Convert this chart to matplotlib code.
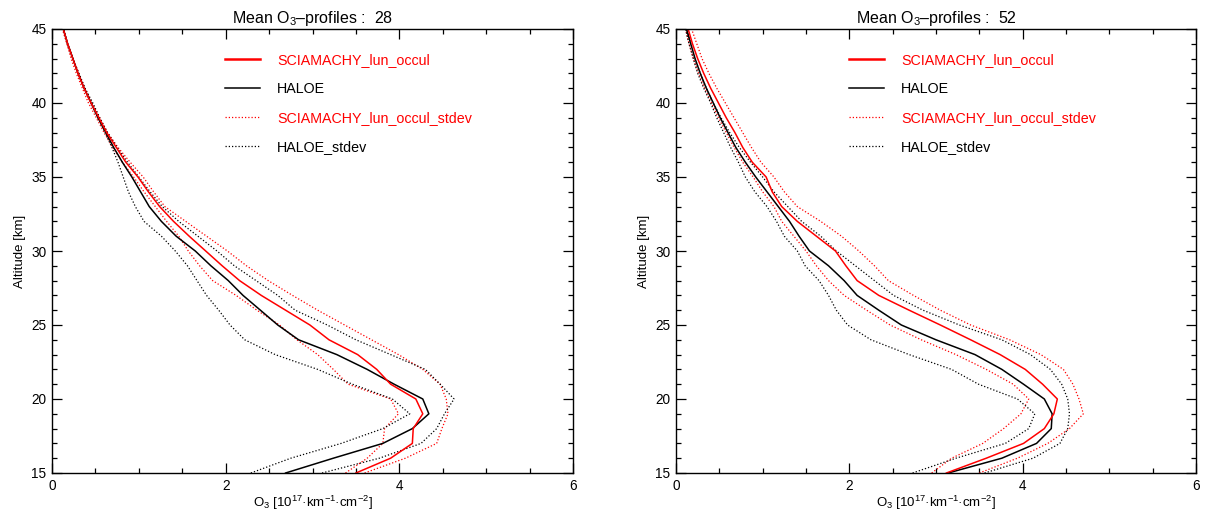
import matplotlib

matplotlib.use("Agg")
import matplotlib.pyplot as plt
from matplotlib.lines import Line2D
from matplotlib.ticker import MultipleLocator

plt.rcParams["font.family"] = ["Liberation Sans", "DejaVu Sans"]
plt.rcParams["mathtext.fontset"] = "custom"
plt.rcParams["mathtext.rm"] = "Liberation Sans"
plt.rcParams["mathtext.it"] = "Liberation Sans:italic"

# altitude grid [km], 15 .. 45
altitude = list(range(15, 46))

# panel 1: 28 profiles
left_scia = [3.50, 3.90, 4.15, 4.16, 4.27, 4.19, 3.90, 3.74, 3.52, 3.19, 2.97, 2.69, 2.41, 2.16, 1.96, 1.77,
             1.58, 1.40, 1.24, 1.11, 0.99, 0.85, 0.74, 0.63, 0.54, 0.45, 0.37, 0.30, 0.24, 0.18, 0.13]
left_haloe = [2.69, 3.24, 3.81, 4.15, 4.34, 4.27, 3.94, 3.63, 3.28, 2.84, 2.60, 2.40, 2.20, 2.03, 1.83, 1.65,
              1.43, 1.26, 1.12, 1.02, 0.92, 0.81, 0.71, 0.62, 0.53, 0.45, 0.37, 0.30, 0.24, 0.18, 0.13]
left_scia_hi = [3.60, 4.07, 4.43, 4.49, 4.56, 4.54, 4.47, 4.27, 3.99, 3.68, 3.37, 3.06, 2.77, 2.49, 2.24, 2.02,
                1.78, 1.54, 1.30, 1.17, 1.05, 0.90, 0.76, 0.64, 0.55, 0.46, 0.38, 0.31, 0.24, 0.18, 0.13]
left_scia_lo = [3.38, 3.63, 3.81, 3.83, 3.99, 3.90, 3.41, 3.24, 3.06, 2.82, 2.62, 2.36, 2.12, 1.85, 1.70, 1.57,
                1.46, 1.32, 1.19, 1.06, 0.94, 0.81, 0.70, 0.60, 0.51, 0.42, 0.35, 0.28, 0.22, 0.17, 0.12]
left_haloe_hi = [3.11, 3.77, 4.25, 4.43, 4.52, 4.63, 4.47, 4.30, 3.90, 3.50, 3.17, 2.80, 2.60, 2.35, 2.10, 1.90,
                 1.68, 1.46, 1.27, 1.13, 1.00, 0.87, 0.75, 0.64, 0.55, 0.47, 0.38, 0.31, 0.24, 0.18, 0.13]
left_haloe_lo = [2.29, 2.75, 3.33, 3.81, 4.12, 3.92, 3.46, 3.06, 2.57, 2.22, 2.05, 1.92, 1.78, 1.67, 1.56, 1.42,
                 1.26, 1.06, 0.96, 0.88, 0.82, 0.76, 0.69, 0.61, 0.53, 0.45, 0.37, 0.30, 0.24, 0.18, 0.13]

# panel 2: 52 profiles
right_scia = [3.12, 3.58, 4.01, 4.25, 4.36, 4.40, 4.23, 4.03, 3.74, 3.40, 3.05, 2.69, 2.34, 2.09, 1.96, 1.84,
              1.62, 1.40, 1.22, 1.11, 1.04, 0.88, 0.77, 0.68, 0.58, 0.49, 0.40, 0.32, 0.25, 0.19, 0.14]
right_haloe = [3.14, 3.76, 4.16, 4.33, 4.34, 4.25, 4.01, 3.76, 3.45, 3.00, 2.60, 2.34, 2.09, 1.94, 1.76, 1.54,
               1.42, 1.31, 1.18, 1.05, 0.92, 0.80, 0.69, 0.60, 0.51, 0.43, 0.35, 0.28, 0.22, 0.17, 0.12]
right_scia_hi = [3.50, 3.94, 4.29, 4.54, 4.70, 4.65, 4.58, 4.47, 4.21, 3.85, 3.40, 3.05, 2.74, 2.45, 2.29, 2.11,
                 1.91, 1.67, 1.40, 1.25, 1.13, 0.98, 0.87, 0.77, 0.67, 0.57, 0.47, 0.38, 0.30, 0.24, 0.18]
right_scia_lo = [2.95, 3.18, 3.54, 3.78, 3.98, 4.07, 3.89, 3.58, 3.23, 2.83, 2.47, 2.20, 1.94, 1.76, 1.62, 1.50,
                 1.36, 1.22, 1.13, 1.00, 0.89, 0.77, 0.67, 0.58, 0.49, 0.41, 0.33, 0.26, 0.20, 0.15, 0.11]
right_haloe_hi = [3.56, 4.12, 4.43, 4.52, 4.54, 4.52, 4.45, 4.32, 4.09, 3.76, 3.27, 2.85, 2.51, 2.29, 2.07, 1.85,
                  1.67, 1.45, 1.29, 1.13, 1.00, 0.86, 0.73, 0.62, 0.52, 0.43, 0.35, 0.28, 0.22, 0.17, 0.13]
right_haloe_lo = [2.73, 3.23, 3.80, 4.07, 4.14, 3.94, 3.49, 3.18, 2.69, 2.25, 1.98, 1.85, 1.76, 1.65, 1.49, 1.40,
                  1.25, 1.16, 1.05, 0.91, 0.80, 0.72, 0.63, 0.55, 0.47, 0.40, 0.32, 0.25, 0.20, 0.15, 0.11]

n_profiles = [28, 52]
labels = ["SCIAMACHY_lun_occul", "HALOE", "SCIAMACHY_lun_occul_stdev", "HALOE_stdev"]

RED = "#ff0000"
DOT = (0, (1, 1.6))


def draw_panel(ax, n, scia, haloe, scia_hi, scia_lo, haloe_hi, haloe_lo):
    ax.plot(scia_hi, altitude, color=RED, lw=0.9, linestyle=DOT)
    ax.plot(scia_lo, altitude, color=RED, lw=0.9, linestyle=DOT)
    ax.plot(haloe_hi, altitude, color="black", lw=0.9, linestyle=DOT)
    ax.plot(haloe_lo, altitude, color="black", lw=0.9, linestyle=DOT)
    ax.plot(haloe, altitude, color="black", lw=1.1)
    ax.plot(scia, altitude, color=RED, lw=1.1)

    ax.set_xlim(0, 6)
    ax.set_ylim(15, 45)
    ax.xaxis.set_major_locator(MultipleLocator(2))
    ax.xaxis.set_minor_locator(MultipleLocator(0.5))
    ax.yaxis.set_major_locator(MultipleLocator(5))
    ax.yaxis.set_minor_locator(MultipleLocator(1))
    ax.tick_params(which="both", direction="in", top=True, right=True, labelsize=9.8, width=0.9)
    ax.tick_params(which="major", length=7, pad=4)
    ax.tick_params(which="minor", length=3.5)
    for sp in ax.spines.values():
        sp.set_linewidth(1.0)

    ax.set_title(f"Mean O$_3$\u2013profiles :  {n}", fontsize=11.5, pad=4)
    ax.set_xlabel("O$_3$ [10$^{17}$\u00b7km$^{-1}$\u00b7cm$^{-2}$]", fontsize=9.5, labelpad=1)
    ax.set_ylabel("Altitude [km]", fontsize=9.5, labelpad=4)

    handles = [
        Line2D([], [], color=RED, lw=1.8),
        Line2D([], [], color="black", lw=1.1),
        Line2D([], [], color=RED, lw=0.9, linestyle=DOT),
        Line2D([], [], color="black", lw=0.9, linestyle=DOT),
    ]
    leg = ax.legend(handles, labels, loc="upper left", bbox_to_anchor=(0.332, 0.945),
                    frameon=False, fontsize=10.3, borderpad=0, borderaxespad=0,
                    handlelength=2.45, handletextpad=1.2, labelspacing=1.04)
    for txt, col in zip(leg.get_texts(), [RED, "black", RED, "black"]):
        txt.set_color(col)


fig = plt.figure(figsize=(12.06, 5.13), dpi=100)
ax1 = fig.add_axes([52 / 1206, 40 / 513, 521 / 1206, 444 / 513])
ax2 = fig.add_axes([676 / 1206, 40 / 513, 520 / 1206, 444 / 513])

draw_panel(ax1, n_profiles[0], left_scia, left_haloe, left_scia_hi, left_scia_lo, left_haloe_hi, left_haloe_lo)
draw_panel(ax2, n_profiles[1], right_scia, right_haloe, right_scia_hi, right_scia_lo, right_haloe_hi, right_haloe_lo)

fig.savefig("out.png", dpi=100)
plt.close(fig)
